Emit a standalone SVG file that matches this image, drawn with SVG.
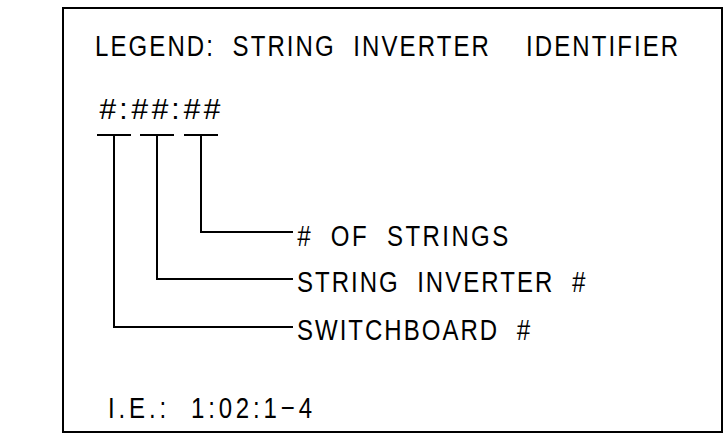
<svg xmlns="http://www.w3.org/2000/svg" width="726" height="441" viewBox="0 0 726 441">
<style>
text{font-family:"Liberation Sans",Arial,sans-serif;fill:#000;font-size:30px;white-space:pre}
.ln{stroke:#000;stroke-width:2;fill:none}
.it{font-style:italic}
</style>
<rect x="0" y="0" width="726" height="441" fill="#fff"/>
<g id="frame"><rect x="63" y="8" width="659" height="424" class="ln"/></g>
<g id="title"><text transform="translate(95,56) scale(0.8,1)" textLength="729" lengthAdjust="spacing" xml:space="preserve">LEGEND:  STRING  INVERTER    IDENTIFIER</text></g>
<g id="format"><text x="99" y="119" textLength="121" lengthAdjust="spacing" xml:space="preserve"><tspan class="it">#</tspan>:<tspan class="it">##</tspan>:<tspan class="it">##</tspan></text></g>
<g id="connectors">
<path class="ln" d="M97 135H131M140 135H174M184 135H218"/>
<path class="ln" d="M201 135V232H293"/>
<path class="ln" d="M157 135V279H293"/>
<path class="ln" d="M114 135V327H293"/>
</g>
<g id="label-strings"><text transform="translate(297,246) scale(0.8,1)" textLength="264" lengthAdjust="spacing" xml:space="preserve"><tspan class="it">#</tspan>  OF  STRINGS</text></g>
<g id="label-inverter"><text transform="translate(297,292) scale(0.8,1)" textLength="360" lengthAdjust="spacing" xml:space="preserve">STRING  INVERTER  <tspan class="it">#</tspan></text></g>
<g id="label-switchboard"><text transform="translate(297,340) scale(0.8,1)" textLength="291" lengthAdjust="spacing" xml:space="preserve">SWITCHBOARD  <tspan class="it">#</tspan></text></g>
<g id="example"><text transform="translate(108,418) scale(0.8,1)" textLength="255" lengthAdjust="spacing" xml:space="preserve">I.E.:  1:02:1−4</text></g>
</svg>
